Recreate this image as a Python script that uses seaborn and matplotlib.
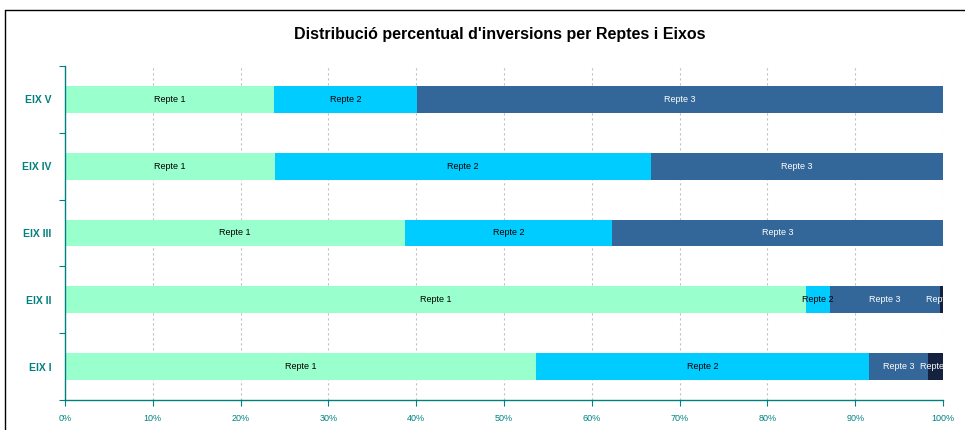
import numpy as np
import pandas as pd
import matplotlib
matplotlib.use("Agg")
import matplotlib.pyplot as plt
import seaborn as sns
from matplotlib.lines import Line2D

# Data (percent share of investment per axis)
eixos = ["EIX V", "EIX IV", "EIX III", "EIX II", "EIX I"]
repte1 = [23.8, 23.9, 38.7, 84.4, 53.6]
repte2 = [16.3, 42.8, 23.6, 2.7, 38.0]
repte3 = [59.9, 33.3, 37.7, 12.6, 6.7]
repte4 = [0.0, 0.0, 0.0, 0.3, 1.7]
reptes = ["Repte 1", "Repte 2", "Repte 3", "Repte 4"]
x_ticks = list(range(0, 101, 10))

colors = ["#99FFCC", "#00CCFF", "#336699", "#14223F"]
text_colors = ["black", "black", "white", "white"]
teal = "#008080"

sns.set_theme(style="white")
plt.rcParams["font.family"] = ["Liberation Sans", "DejaVu Sans"]

df = pd.DataFrame({"eix": eixos, "Repte 1": repte1, "Repte 2": repte2,
                   "Repte 3": repte3, "Repte 4": repte4})
cum = df[reptes].cumsum(axis=1)

fig = plt.figure(figsize=(9.65, 4.3), dpi=100)
ax = fig.add_axes([0.0674, 0.0698, 0.9098, 0.7767])

# stacked bars: draw cumulative totals from largest to smallest
for i in range(len(reptes) - 1, -1, -1):
    sns.barplot(x=cum[reptes[i]], y=df["eix"], order=eixos, orient="h",
                color=colors[i], width=0.4, saturation=1, ax=ax,
                edgecolor="none", linewidth=0)

# segment labels
for row in range(len(eixos)):
    for i, r in enumerate(reptes):
        val = df.loc[row, r]
        if val <= 0:
            continue
        start = cum.loc[row, r] - val
        ax.text(start + val / 2, row, r, ha="center", va="center",
                fontsize=6.5, color=text_colors[i], clip_on=True)

ax.set_xlim(0, 100)
ax.set_ylim(4.5, -0.5)
ax.set_xlabel("")
ax.set_ylabel("")
ax.set_xticks(x_ticks)
ax.set_xticklabels([f"{t}%" for t in x_ticks], fontsize=6.5, color=teal)
ax.tick_params(axis="x", direction="out", length=4, width=0.8, color=teal, pad=6, bottom=True)

ax.set_yticks(range(len(eixos)))
ax.set_yticklabels(eixos, fontsize=7.5, fontweight="bold", color=teal)
ax.tick_params(axis="y", which="major", length=0, pad=10)
ax.set_yticks(np.arange(-0.5, 5, 1), minor=True)
ax.tick_params(axis="y", which="minor", direction="out", length=4, width=0.8, color=teal, left=True)

ax.xaxis.grid(True, linestyle=(0, (2, 2.5)), color="#c0c0c0", linewidth=0.8)
ax.set_axisbelow(True)
for s in ["top", "right"]:
    ax.spines[s].set_visible(False)
for s in ["left", "bottom"]:
    ax.spines[s].set_color(teal)
    ax.spines[s].set_linewidth(1.0)

fig.text(500 / 965, 1 - 34 / 430, "Distribució percentual d'inversions per Reptes i Eixos",
         ha="center", va="center", fontsize=11.5, fontweight="bold", color="black")

# outer chart frame (left and top edges visible)
fig.add_artist(Line2D([5 / 965, 5 / 965], [0, 1 - 10 / 430], color="black", linewidth=1))
fig.add_artist(Line2D([5 / 965, 1], [1 - 10 / 430, 1 - 10 / 430], color="black", linewidth=1))

fig.savefig("out.png", dpi=100)
plt.close(fig)
